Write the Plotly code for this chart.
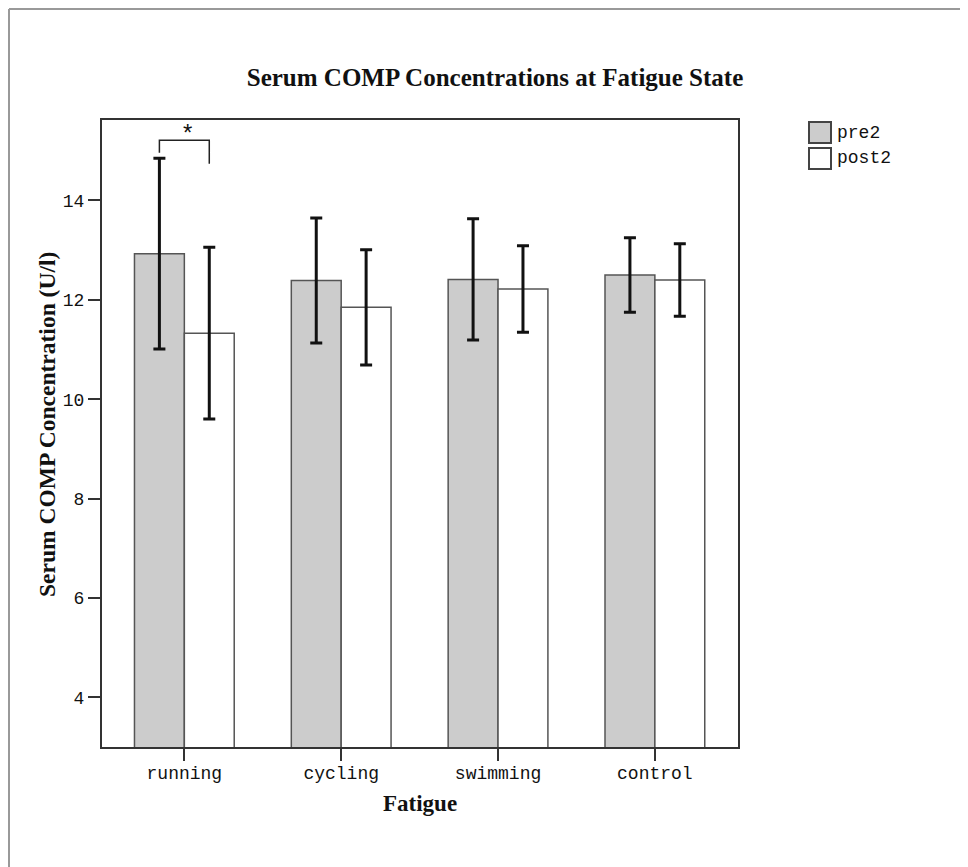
import plotly.graph_objects as go

# ---- data ----
categories = ["running", "cycling", "swimming", "control"]
pre2_mean = [12.93, 12.39, 12.41, 12.50]
pre2_err = [1.92, 1.26, 1.22, 0.75]
post2_mean = [11.33, 11.85, 12.22, 12.40]
post2_err = [1.73, 1.16, 0.87, 0.73]
y_ticks = [4, 6, 8, 10, 12, 14]
# significance bracket (running: pre2 vs post2), y-values of left leg end, top, right leg end
sig_bracket = [14.96, 15.21, 14.74]

# ---- layout geometry (page pixels; page has an 8px body margin) ----
OFF = 8
W, H = 968, 867
PL, PR, PT, PB = 102, 738, 120, 747   # plot box in page pixels
ML, MT = PL - OFF, PT - OFF
MR, MB = W - (PR - OFF), H - (PB - OFF)
PW, PH = PR - PL, PB - PT
BARGAP = 0.364


def px_x(p):
    return (p - PL) / PW


def px_y(p):
    return (PB - p) / PH


serif = "Liberation Serif"
mono = "Liberation Mono"

fig = go.Figure()
fig.add_trace(go.Bar(
    name="pre2", x=categories, y=pre2_mean,
    marker=dict(color="#cccccc", line=dict(color="#555555", width=1.5)),
    error_y=dict(type="data", array=pre2_err, visible=True, color="#111111", thickness=3, width=6),
    showlegend=False,
))
fig.add_trace(go.Bar(
    name="post2", x=categories, y=post2_mean,
    marker=dict(color="#ffffff", line=dict(color="#555555", width=1.5)),
    error_y=dict(type="data", array=post2_err, visible=True, color="#111111", thickness=3, width=6),
    showlegend=False,
))

# significance bracket
off = (1 - BARGAP) / 4
x0, x1 = 0 - off, 0 + off
fig.add_shape(type="path", xref="x", yref="y",
              path=f"M {x0},{sig_bracket[0]} L {x0},{sig_bracket[1]} L {x1},{sig_bracket[1]} L {x1},{sig_bracket[2]}",
              line=dict(color="#222222", width=1.5))
fig.add_annotation(x=(x0 + x1) / 2 + 0.02, y=sig_bracket[1], xref="x", yref="y",
                   text="*", showarrow=False, yanchor="bottom", yshift=-8,
                   font=dict(family="Liberation Sans", size=24, color="#111111"))

# custom legend
legend_items = [("pre2", "#cccccc", 122, 143), ("post2", "#ffffff", 148, 169)]
for label, col, top, bot in legend_items:
    fig.add_shape(type="rect", xref="paper", yref="paper",
                  x0=px_x(809), x1=px_x(831), y0=px_y(bot), y1=px_y(top),
                  fillcolor=col, line=dict(color="#444444", width=2))
    fig.add_annotation(xref="paper", yref="paper", x=px_x(835), y=px_y((top + bot) / 2),
                       text=label, showarrow=False, xanchor="left", yanchor="middle",
                       font=dict(family=mono, size=18, color="#111111"))

# outer frame (top and left edges of the screenshot)
fig.add_shape(type="line", xref="paper", yref="paper",
              x0=px_x(9), x1=px_x(W + 20), y0=px_y(9), y1=px_y(9),
              line=dict(color="#999999", width=2))
fig.add_shape(type="line", xref="paper", yref="paper",
              x0=px_x(9), x1=px_x(9), y0=px_y(9), y1=px_y(H + 20),
              line=dict(color="#999999", width=2))

# axis titles as annotations for exact placement
fig.add_annotation(xref="paper", yref="paper", x=px_x(47), y=px_y(425),
                   text="<b>Serum COMP Concentration (U/l)</b>", textangle=-90,
                   showarrow=False, xanchor="center", yanchor="middle",
                   font=dict(family=serif, size=23.5, color="#111111"))
fig.add_annotation(xref="paper", yref="paper", x=px_x(420), y=px_y(803),
                   text="<b>Fatigue</b>", showarrow=False, xanchor="center", yanchor="middle",
                   font=dict(family=serif, size=23, color="#111111"))

fig.update_layout(
    width=W, height=H,
    margin=dict(l=ML, r=MR, t=MT, b=MB),
    paper_bgcolor="white", plot_bgcolor="white",
    barmode="group", bargap=BARGAP, bargroupgap=0,
    title=dict(text="<b>Serum COMP Concentrations at Fatigue State</b>",
               x=(495 - OFF) / W, xanchor="center", xref="container",
               y=1 - (77 - OFF) / H, yanchor="middle", yref="container",
               font=dict(family=serif, size=25, color="#111111")),
    xaxis=dict(range=[-0.525, 3.53], showgrid=False, zeroline=False,
               showline=True, linecolor="#333333", linewidth=2, mirror=True,
               ticks="outside", ticklen=12, tickwidth=1.5, tickcolor="#333333",
               ticklabelstandoff=-4,
               tickfont=dict(family=mono, size=18, color="#111111")),
    yaxis=dict(range=[3.0, 15.62], showgrid=False, zeroline=False,
               showline=True, linecolor="#333333", linewidth=2, mirror=True,
               ticks="outside", ticklen=12, tickwidth=1.5, tickcolor="#333333",
               tickvals=y_ticks, ticktext=[str(v) for v in y_ticks],
               tickfont=dict(family=mono, size=18, color="#111111")),
)

fig.write_html("out.html")
